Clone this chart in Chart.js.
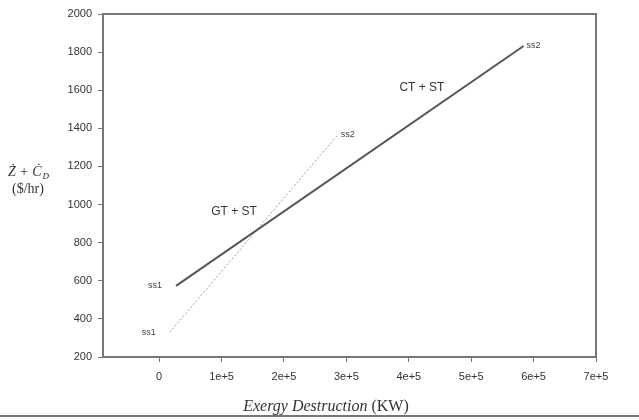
<!DOCTYPE html>
<html>
<head>
<meta charset="utf-8">
<script src="https://cdn.jsdelivr.net/npm/chart.js@4.4.1/dist/chart.umd.min.js"></script>
<style>
  html,body{margin:0;padding:0;background:#fff;}
  #wrap{width:639px;height:420px;position:relative;}
</style>
</head>
<body>
<div id="wrap"><canvas id="c" width="639" height="420"></canvas></div>
<script>
// ---- data ----
const ctStX = [27000, 584000];
const ctStY = [573, 1832];
const gtStX = [17000, 286000];
const gtStY = [330, 1365];
const pointLabels = ["ss1", "ss2"];
const seriesNames = ["CT + ST", "GT + ST"];
const seriesNameX = [421000, 120000];
const seriesNameY = [1612, 961];
const xTickValues = [0, 100000, 200000, 300000, 400000, 500000, 600000, 700000];
const xTickLabels = ["0", "1e+5", "2e+5", "3e+5", "4e+5", "5e+5", "6e+5", "7e+5"];
const yTickValues = [200, 400, 600, 800, 1000, 1200, 1400, 1600, 1800, 2000];

const toPts = (xs, ys) => xs.map((x, i) => ({x: x, y: ys[i]}));

const annot = {
  id: 'annot',
  afterDatasetsDraw(chart) {
    const {ctx, chartArea: a, scales: {x, y}} = chart;
    ctx.save();
    // frame
    ctx.strokeStyle = '#777';
    ctx.lineWidth = 2;
    ctx.strokeRect(a.left, a.top, a.right - a.left, a.bottom - a.top);
    // point labels
    ctx.fillStyle = '#444';
    ctx.font = '9px "Liberation Sans", Arial, sans-serif';
    ctx.textBaseline = 'middle';
    const pairs = [[ctStX, ctStY], [gtStX, gtStY]];
    pairs.forEach(([xs, ys]) => {
      ctx.textAlign = 'right';
      ctx.fillText(pointLabels[0], x.getPixelForValue(xs[0]) - 14, y.getPixelForValue(ys[0]));
      ctx.textAlign = 'left';
      ctx.fillText(pointLabels[1], x.getPixelForValue(xs[1]) + 3, y.getPixelForValue(ys[1]));
    });
    // series names
    ctx.font = '12px "Liberation Sans", Arial, sans-serif';
    ctx.fillStyle = '#333';
    ctx.textAlign = 'center';
    seriesNames.forEach((n, i) => {
      ctx.fillText(n, x.getPixelForValue(seriesNameX[i]), y.getPixelForValue(seriesNameY[i]));
    });
    ctx.restore();
  },
  afterDraw(chart) {
    const {ctx} = chart;
    ctx.save();
    // bottom rule
    ctx.strokeStyle = '#777';
    ctx.lineWidth = 2;
    ctx.beginPath();
    ctx.moveTo(0, 416);
    ctx.lineTo(639, 416);
    ctx.stroke();
    ctx.fillStyle = '#333';
    ctx.textBaseline = 'alphabetic';
    // x title
    const t1 = 'Exergy Destruction ';
    const t2 = '(KW)';
    const fi = 'italic 16px "Liberation Serif", "Times New Roman", serif';
    const fr = '16px "Liberation Serif", "Times New Roman", serif';
    ctx.font = fi;
    const w1 = ctx.measureText(t1).width;
    ctx.font = fr;
    const w2 = ctx.measureText(t2).width;
    const cx = 326;
    const sx = cx - (w1 + w2) / 2;
    ctx.textAlign = 'left';
    ctx.font = fi;
    ctx.fillText(t1, sx, 411);
    ctx.font = fr;
    ctx.fillText(t2, sx + w1, 411);
    // y title
    ctx.font = 'italic 14px "Liberation Serif", "Times New Roman", serif';
    const s1 = '\u017B + \u010A';
    const ws1 = ctx.measureText(s1).width;
    ctx.fillText(s1, 8, 176);
    ctx.font = 'italic 9px "Liberation Serif", "Times New Roman", serif';
    ctx.fillText('D', 8 + ws1 + 1, 179);
    ctx.font = '14px "Liberation Serif", "Times New Roman", serif';
    ctx.fillText('($/hr)', 12, 193);
    ctx.restore();
  }
};

new Chart(document.getElementById('c'), {
  type: 'scatter',
  data: {
    datasets: [
      {
        label: seriesNames[0],
        data: toPts(ctStX, ctStY),
        showLine: true,
        borderColor: '#555',
        borderWidth: 2,
        pointRadius: 0,
        fill: false
      },
      {
        label: seriesNames[1],
        data: toPts(gtStX, gtStY),
        showLine: true,
        borderColor: '#999',
        borderWidth: 1,
        borderDash: [2, 2],
        pointRadius: 0,
        fill: false
      }
    ]
  },
  options: {
    responsive: false,
    animation: false,
    layout: {padding: {left: 0, right: 43, top: 14, bottom: 0}},
    plugins: {legend: {display: false}, tooltip: {enabled: false}},
    scales: {
      x: {
        type: 'linear',
        min: -90000,
        max: 700000,
        afterBuildTicks: (s) => { s.ticks = xTickValues.map(v => ({value: v})); },
        afterFit: (s) => { s.height = 63; },
        grid: {drawOnChartArea: false, drawTicks: true, tickLength: 5, color: '#777', lineWidth: 1},
        border: {display: false},
        ticks: {
          padding: 8,
          color: '#333',
          font: {family: '"Liberation Sans", Arial, sans-serif', size: 11},
          maxRotation: 0,
          callback: (v) => { const i = xTickValues.indexOf(v); return i >= 0 ? xTickLabels[i] : ''; }
        }
      },
      y: {
        type: 'linear',
        min: 200,
        max: 2000,
        afterBuildTicks: (s) => { s.ticks = yTickValues.map(v => ({value: v})); },
        afterFit: (s) => { s.width = 103; },
        grid: {drawOnChartArea: false, drawTicks: true, tickLength: 5, color: '#777', lineWidth: 1},
        border: {display: false},
        ticks: {
          padding: 6,
          color: '#333',
          font: {family: '"Liberation Sans", Arial, sans-serif', size: 11},
          callback: (v) => String(v)
        }
      }
    }
  },
  plugins: [annot]
});
</script>
</body>
</html>
